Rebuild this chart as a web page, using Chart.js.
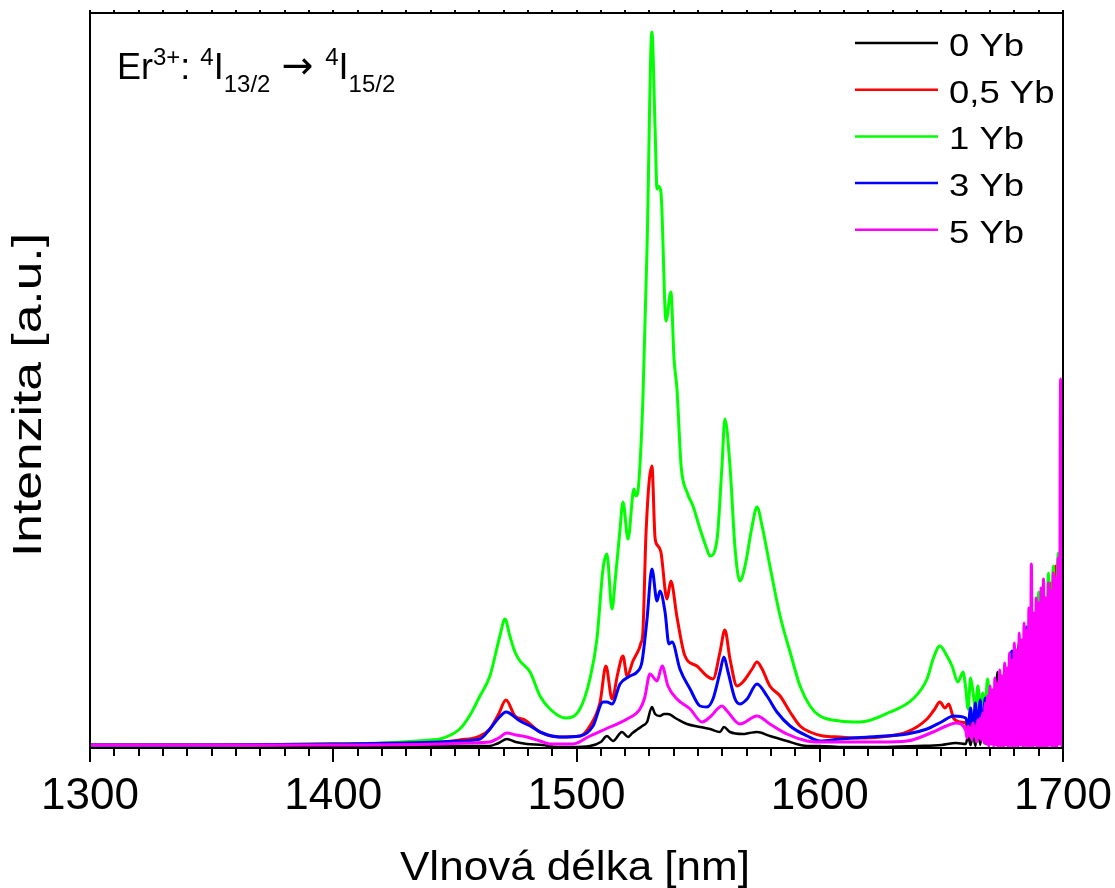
<!DOCTYPE html>
<html>
<head>
<meta charset="utf-8">
<script src="https://cdn.jsdelivr.net/npm/chart.js@4.4.1/dist/chart.umd.min.js"></script>
<style>
  html, body { margin: 0; padding: 0; background: #fff; }
  #wrap { width: 1115px; height: 888px; }
</style>
</head>
<body>
<div id="wrap"><canvas id="graf" width="1115" height="888"></canvas></div>
<script>
// === DATA (intensity in a.u.) ===
const seriesNames = ["0 Yb", "0,5 Yb", "1 Yb", "3 Yb", "5 Yb"];
const seriesColors = ["#000000", "#ff0000", "#00ff00", "#0000ff", "#ff00ff"];
const xTicks = [1300, 1400, 1500, 1600, 1700];
const xTitle = "Vlnová délka [nm]";
const yTitle = "Intenzita [a.u.]";

const blackNm = [1300,1350,1400,1440,1464.4,1468,1471.4,1475,1479.6,1486,1492,1498,1505.5,1510,1512.5,1515,1518.7,1521.2,1523,1525.3,1527,1529,1531,1532.3,1534.3,1536,1537.6,1541.3,1545.4,1550.8,1554.9,1559,1560.6,1563.1,1568.4,1571,1574.2,1579.5,1586.5,1594.8,1600,1610,1625,1640,1650,1656];
const blackVal = [3,3,2,2,2,5,9,6,4,3,1,1,2,6,12,7,16,11,15,19,22,26,41,34,32,34,34,29,24,21,19,16,21,16,14,15,16,12,7,2,2,1,1,2,3,5];

const redNm = [1300,1350,1400,1430,1444,1452,1460.3,1464.4,1468,1471,1474.7,1478.8,1485,1493.2,1501.4,1505.5,1509.7,1512.1,1514.6,1517,1519.1,1520.8,1523.2,1525.7,1526.5,1527.3,1528.6,1531,1532.3,1533.5,1534.7,1537.2,1538.8,1541.3,1544.6,1549.5,1553.6,1556.1,1559,1561,1563.1,1566,1568.4,1572.2,1574.2,1576.3,1579.5,1583.7,1587.8,1591.9,1596,1601.3,1608.3,1615.3,1625,1635.9,1644.1,1647,1649.4,1651.5,1653,1655,1657.7];
const redVal = [3,3,4,5,6,8,12,19,34,48,32,28,16,11,12,22,46,82,49,75,92,72,87,99,105,116,216,282,210,202,196,149,167,131,92,82,72,69,96,118,89,62,66,79,86,79,62,52,36,22,16,12,11,10,11,16,29,38,46,40,44,30,26];

const greenNm = [1300,1350,1400,1420,1440,1444,1452,1456,1460.3,1464.4,1468.5,1470.6,1472.6,1474.7,1476.8,1480.9,1485,1489.1,1495.3,1501.4,1505.5,1508.4,1510.9,1512.5,1514.6,1516,1517.9,1519.1,1521.2,1523.6,1524.5,1525.5,1527.3,1529,1531,1532.3,1533.1,1533.5,1534.7,1536.8,1538.8,1540.1,1541.3,1543,1545.4,1547.9,1550.8,1553.6,1554.9,1557.8,1559.8,1561,1563.1,1565.2,1567.2,1569.3,1572.2,1574.2,1576.3,1579.5,1583.7,1587.8,1591.9,1596,1600.1,1608.3,1616.5,1628.9,1638.3,1644.1,1646.6,1649.4,1652.3,1654.4,1656.8,1658.9];
const greenVal = [3,3,4,5,8,9,19,32,52,72,112,129,112,96,87,76,52,39,30,39,69,109,179,194,139,170,219,246,209,259,252,262,349,500,716,620,559,562,556,427,456,389,359,282,256,242,219,199,192,209,282,329,282,199,167,182,222,241,222,182,132,96,62,42,32,27,26,36,49,69,89,102,92,82,66,76];

const blueNm = [1300,1350,1400,1430,1444,1452,1460.3,1464.4,1468,1471,1476.8,1481,1485,1493.2,1501.4,1506.8,1510.9,1512.5,1514.6,1517.9,1522,1524.9,1526.9,1529,1531,1533.1,1534.3,1536.4,1538,1539.3,1542.5,1546.7,1550.8,1553.6,1556.1,1559,1560.6,1562.3,1565.2,1567.2,1570.1,1574.2,1578.3,1582.4,1587.8,1594.8,1600.1,1608.3,1620,1635.9,1644.1,1650,1655];
const blueVal = [3,3,4,5,6,7,9,19,30,36,27,22,16,11,12,22,46,46,44,64,72,76,86,129,179,147,157,136,104,106,79,59,42,41,49,76,91,76,49,44,49,64,52,36,22,12,7,9,11,14,19,26,32];

const magentaNm = [1300,1350,1400,1444,1455,1464.4,1468,1471.4,1475,1479.6,1485,1489.1,1498.6,1505.5,1513.8,1520.8,1526.1,1528,1530.2,1533.1,1535.2,1537.6,1541.3,1546.7,1551.6,1554.9,1559.8,1561.9,1567.2,1574.2,1579.5,1586.5,1594.8,1600.1,1608.3,1625,1635.9,1646.6,1652,1656];
const magentaVal = [3,3,3,4,5,6,10,15,13,11,7,4,4,12,21,29,39,50,74,67,82,62,49,39,26,31,42,37,24,32,24,14,7,6,6,6,7,16,22,25];

// noisy detector edge, 1660-1700 nm
const noiseNm = [1660,1661,1662,1663,1664,1665,1666,1667,1668,1669,1670,1671,1672,1673,1674,1675,1676,1677,1678,1679,1680,1681,1682,1683,1684,1685,1686,1687,1688,1689,1690,1691,1692,1693,1694,1695,1696,1697,1698,1699,1700];
const blackNoise = [4,12,3,15,2,20,3,25,4,30,5,35,6,76,8,45,6,55,8,60,10,70,106,12,80,10,95,14,90,132,16,100,18,115,20,120,22,140,25,160,30];
const redNoise = [25,18,35,12,38,15,40,10,45,12,50,8,55,10,58,64,12,62,15,70,14,78,18,85,16,95,20,110,22,125,25,140,28,150,30,165,35,182,40,200,289];
const greenNoise = [60,39,70,56,40,62,36,55,42,69,45,58,49,40,60,30,55,25,62,28,70,30,78,32,85,35,95,40,100,42,156,50,120,55,175,60,182,70,195,80,210];
const blueNoise = [30,22,40,18,45,20,48,15,50,18,55,12,60,15,62,14,70,16,75,97,18,88,20,100,22,121,25,110,28,118,30,125,32,130,35,136,38,145,40,150,160];
const magentaNoiseNm = [1660,1660.5,1661,1661.5,1662,1662.5,1663,1663.5,1664,1664.5,1665,1665.5,1666,1666.5,1667,1667.5,1668,1668.5,1669,1669.5,1670,1670.5,1671,1671.5,1672,1672.5,1673,1673.5,1674,1674.5,1675,1675.5,1676,1676.5,1677,1677.5,1678,1678.5,1679,1679.5,1680,1680.5,1681,1681.5,1682,1682.5,1683,1683.5,1684,1684.5,1685,1685.5,1686,1686.5,1687,1687.5,1688,1688.5,1689,1689.5,1690,1690.5,1691,1691.5,1692,1692.5,1693,1693.5,1694,1694.5,1695,1695.5,1696,1696.5,1697,1697.5,1698,1698.5,1699,1699.5,1700];
const magentaNoise = [18,10,22,12,20,8,25,12,22,6,28,10,30,8,35,5,45,4,52,2,62,4,58,2,70,3,65,1,78,2,72,1,85,3,80,1,95,2,88,1,105,2,98,1,115,3,108,1,125,2,118,1,140,2,184,1,135,3,150,1,145,2,160,1,169,2,150,1,165,3,158,1,175,2,170,1,190,4,369,2,200];

const FONT = "'Liberation Sans', Arial, sans-serif";

const toPts = (nm, val) => nm.map((w, i) => ({ x: w, y: val[i] }));

const seriesData = [
  toPts(blackNm.concat(noiseNm), blackVal.concat(blackNoise)),
  toPts(redNm.concat(noiseNm), redVal.concat(redNoise)),
  toPts(greenNm.concat(noiseNm), greenVal.concat(greenNoise)),
  toPts(blueNm.concat(noiseNm), blueVal.concat(blueNoise)),
  toPts(magentaNm.concat(magentaNoiseNm), magentaVal.concat(magentaNoise))
];

// text stretched along its run to the width it has in the picture
function wideText(ctx, txt, font, x, y, width, angle) {
  ctx.save();
  ctx.font = font;
  const s = width / ctx.measureText(txt).width;
  ctx.translate(x, y);
  ctx.rotate(angle || 0);
  ctx.scale(s, 1);
  ctx.fillText(txt, 0, 0);
  ctx.restore();
}

// frame, minor ticks, titles, legend and the transition label
const decor = {
  id: "decor",
  afterDatasetsDraw(chart) {
    const { ctx, chartArea: a, scales: { x } } = chart;
    ctx.save();
    ctx.strokeStyle = "#000";
    ctx.lineWidth = 2;
    ctx.strokeRect(a.left, a.top, a.right - a.left, a.bottom - a.top);

    ctx.beginPath();
    for (let v = 1300; v <= 1700; v += 10) {
      const px = Math.round(x.getPixelForValue(v));
      const major = v % 100 === 0;
      ctx.moveTo(px, a.bottom);
      ctx.lineTo(px, a.bottom + (major ? 14 : 8));
      ctx.moveTo(px, a.top);
      ctx.lineTo(px, a.top - 3);
    }
    ctx.stroke();

    ctx.fillStyle = "#000";
    ctx.textAlign = "left";
    ctx.textBaseline = "alphabetic";
    // axis titles
    wideText(ctx, xTitle, "40px " + FONT, 400, 880, 350, 0);
    wideText(ctx, yTitle, "41px " + FONT, 41, 557, 324, -Math.PI / 2);

    // legend
    ctx.font = "32px " + FONT;
    const legScale = 75 / ctx.measureText(seriesNames[0]).width;
    seriesNames.forEach((name, i) => {
      const y = 43 + i * 46.7;
      ctx.strokeStyle = seriesColors[i];
      ctx.lineWidth = 2.5;
      ctx.beginPath();
      ctx.moveTo(855, y);
      ctx.lineTo(938, y);
      ctx.stroke();
      ctx.font = "32px " + FONT;
      wideText(ctx, name, "32px " + FONT, 949, y + 13, ctx.measureText(name).width * legScale, 0);
    });

    // Er3+: 4I13/2 -> 4I15/2
    const big = "36px " + FONT, small = "24px " + FONT;
    const base = 79;
    let cx = 117;
    const put = (txt, font, dy) => {
      ctx.font = font;
      ctx.fillText(txt, cx, base + dy);
      cx += ctx.measureText(txt).width;
    };
    put("Er", big, 0);
    put("3+", small, -14);
    put(": ", big, 0);
    put("4", small, -14);
    put("I", big, 0);
    put("13/2", small, 13);
    cx += 11;
    put("\u2192", "38px 'DejaVu Sans', sans-serif", -1);
    cx += 12;
    put("4", small, -14);
    put("I", big, 0);
    put("15/2", small, 13);
    ctx.restore();
  }
};

new Chart(document.getElementById("graf").getContext("2d"), {
  type: "line",
  data: {
    datasets: seriesData.map((pts, i) => ({
      label: seriesNames[i],
      data: pts,
      borderColor: seriesColors[i],
      backgroundColor: seriesColors[i],
      borderWidth: i === 0 ? 2.5 : 3,
      pointRadius: 0,
      cubicInterpolationMode: "monotone",
      fill: false,
      order: 4 - i
    }))
  },
  options: {
    responsive: false,
    animation: false,
    devicePixelRatio: 1,
    layout: { padding: { top: 13, right: 52, bottom: 0, left: 0 } },
    plugins: { legend: { display: false }, tooltip: { enabled: false } },
    scales: {
      x: {
        type: "linear",
        min: 1300,
        max: 1700,
        afterBuildTicks: s => { s.ticks = xTicks.map(v => ({ value: v })); },
        ticks: { color: "#000", font: { family: FONT, size: 44 }, padding: 14, maxRotation: 0, callback: v => String(v) },
        grid: { display: false },
        border: { display: false },
        afterFit: s => { s.height = 140; s.paddingLeft = 0; s.paddingRight = 0; }
      },
      y: {
        min: 0,
        max: 735,
        ticks: { display: false },
        grid: { display: false },
        border: { display: false },
        afterFit: s => { s.width = 90; }
      }
    }
  },
  plugins: [decor]
});
</script>
</body>
</html>
